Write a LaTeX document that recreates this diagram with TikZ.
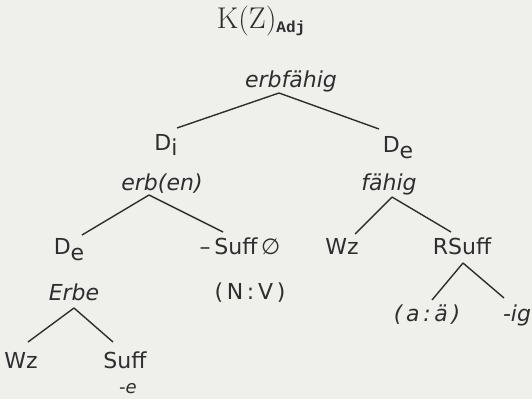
\documentclass[tikz,border=0pt]{standalone}
\usepackage{fontspec}
\newfontfamily\dv{DejaVu Sans}
\newfontfamily\lmono{Liberation Mono}
\usetikzlibrary{calc}
\definecolor{ink}{HTML}{2E2E2E}
\definecolor{paper}{HTML}{EFEFEC}
\begin{document}
\begin{tikzpicture}[x=1pt,y=-1pt,
  lab/.style={anchor=base,inner sep=0pt,text=ink,font=\dv\fontsize{22}{26}\selectfont},
  itl/.style={anchor=base,inner sep=0pt,text=ink,font=\dv\fontsize{22}{26}\selectfont\itshape},
  edge/.style={draw=ink,line width=1.4pt}]
\fill[paper] (0,0) rectangle (532,399);
\useasboundingbox (0,0) rectangle (532,399);
% title
\node[anchor=base,inner sep=0pt,text=ink] (title) at (261,28)
  {\fontsize{30}{34}\selectfont K(Z)\raisebox{-4pt}{\lmono\bfseries\fontsize{16}{18}\selectfont Adj}};
% level 0
\node[itl] (erbf) at (291,87) {erbfähig};
% level 1
\node[lab] (Di) at (166,150) {D\raisebox{-5pt}{i}};
\node[lab] (DeR) at (398,152) {D\raisebox{-6pt}{e}};
% level 2
\node[itl] (erben) at (162,190) {erb(en)};
\node[itl] (faehig) at (389,190) {fähig};
% level 3
\node[lab] (DeL) at (69,254) {D\raisebox{-6pt}{e}};
\node[lab] (SuffO) at (240,254) {–\,Suff\,∅};
\node[lab] (Wz2) at (342,254) {Wz};
\node[lab] (RSuff) at (462,254) {RSuff};
% level 4
\node[itl] (Erbe) at (74,300) {Erbe};
\node[lab] (NV) at (250,299) {(\,N\,:\,V\,)};
\node[itl] (aa) at (427,321) {(\,a\,:\,ä\,)};
\node[itl] (ig) at (517,321) {-ig};
% level 5
\node[lab] (Wz1) at (21,368) {Wz};
\node[lab] (Suff1) at (125,368) {Suff};
\node[itl,font=\dv\fontsize{18}{20}\selectfont\itshape] (e) at (128,393) {-e};
% edges
\draw[edge] ($(erbf.base)+(-12,6)$) -- ($(Di.base)+(11,-22)$);
\draw[edge] ($(erbf.base)+(-12,6)$) -- ($(DeR.base)+(-19,-23)$);
\draw[edge] ($(erben.base)+(-13,5)$) -- ($(DeL.base)+(13,-19)$);
\draw[edge] ($(erben.base)+(-13,5)$) -- ($(SuffO.base)+(-17,-22)$);
\draw[edge] ($(faehig.base)+(3,7)$) -- ($(Wz2.base)+(13,-20)$);
\draw[edge] ($(faehig.base)+(3,7)$) -- ($(RSuff.base)+(-11,-22)$);
\draw[edge] ($(Erbe.base)+(0,8)$) -- ($(Wz1.base)+(7,-26)$);
\draw[edge] ($(Erbe.base)+(0,8)$) -- ($(Suff1.base)+(-12,-26)$);
\draw[edge] ($(RSuff.base)+(1,9)$) -- ($(aa.base)+(5,-21)$);
\draw[edge] ($(RSuff.base)+(1,9)$) -- ($(ig.base)+(-13,-23)$);
\end{tikzpicture}
\end{document}
